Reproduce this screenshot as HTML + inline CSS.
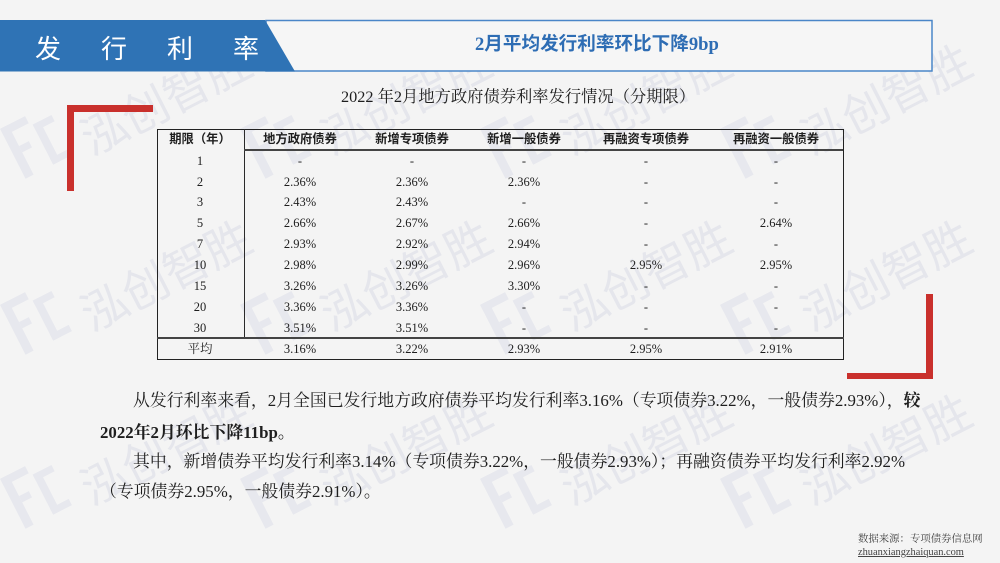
<!DOCTYPE html>
<html><head><meta charset="utf-8">
<style>
*{margin:0;padding:0;box-sizing:border-box}
html,body{width:1000px;height:563px;overflow:hidden;background:#f4f4f4}
body{position:relative;font-family:"Liberation Serif","Noto Serif CJK SC",serif;color:#1e1e1e}
.a{position:absolute;white-space:nowrap}
.c{position:absolute;width:140px;text-align:center;height:20px;line-height:20px;font-size:12.5px;white-space:nowrap}
.h{font-family:"Liberation Serif","Noto Sans CJK SC",sans-serif;font-weight:700;font-size:12.3px}
.red{position:absolute;background:#c9302c}
.ln{position:absolute;background:#2a2a2a}
.p{position:absolute;white-space:nowrap;font-size:16.85px;line-height:22px;height:22px}
</style></head><body>

<svg class="a" style="left:0;top:0" width="1000" height="563" viewBox="0 0 1000 563">
<defs>
<g id="wm">
  <g fill="#e7e8ee">
    <polygon points="-26,-28 -17,-28 -17,28 -26,28"/>
    <polygon points="-26,-28 2,-28 2,-20 -26,-20"/>
    <polygon points="-17,-4 -6,-4 -6,3 -17,3"/>
    <polygon points="5,-17 13,-17 13,28 5,28"/>
    <polygon points="5,-17 26,-17 26,-10 5,-10"/>
    <polygon points="5,21 26,21 26,28 5,28"/>
  </g>
  <text x="43" y="38" font-size="46" fill="#e5e6ec" font-family="Noto Sans CJK SC, sans-serif">泓创智胜</text>
</g>
</defs>
<use href="#wm" transform="translate(36,142) rotate(-27)"/>
<use href="#wm" transform="translate(276,142) rotate(-27)"/>
<use href="#wm" transform="translate(516,142) rotate(-27)"/>
<use href="#wm" transform="translate(756,142) rotate(-27)"/>
<use href="#wm" transform="translate(36,318) rotate(-27)"/>
<use href="#wm" transform="translate(276,318) rotate(-27)"/>
<use href="#wm" transform="translate(516,318) rotate(-27)"/>
<use href="#wm" transform="translate(756,318) rotate(-27)"/>
<use href="#wm" transform="translate(36,492) rotate(-27)"/>
<use href="#wm" transform="translate(276,492) rotate(-27)"/>
<use href="#wm" transform="translate(516,492) rotate(-27)"/>
<use href="#wm" transform="translate(756,492) rotate(-27)"/>

<!-- header -->
<rect x="266" y="20.5" width="666" height="50.5" fill="#f6f6f6" stroke="#4a86c8" stroke-width="1.5"/>
<polygon points="0,20 265,20 295,71.5 0,71.5" fill="#2f73b5"/>
</svg>

<div class="a" style="left:35px;top:30px;font-family:'Noto Sans CJK SC',sans-serif;font-size:26px;line-height:36px;color:#fff;letter-spacing:40px">发行利率</div>
<div class="a" style="left:475px;top:32px;font-family:'Liberation Serif','Noto Sans CJK SC',sans-serif;font-weight:700;font-size:18.6px;line-height:26px;color:#2e6db4">2月平均发行利率环比下降9bp</div>

<div class="a" style="left:341px;top:86px;font-size:16.3px;line-height:22px;color:#1e1e1e">2022 年2月地方政府债券利率发行情况（分期限）</div>

<!-- red brackets -->
<div class="red" style="left:67px;top:105px;width:7px;height:86px"></div>
<div class="red" style="left:67px;top:105px;width:86px;height:7px"></div>
<div class="red" style="left:926px;top:294px;width:7px;height:85px"></div>
<div class="red" style="left:847px;top:373px;width:86px;height:6px"></div>

<!-- table lines -->
<div class="a" style="left:157px;top:129px;width:687px;height:231px;border:1.5px solid #222"></div>
<div class="ln" style="left:243.5px;top:129px;width:1.5px;height:209px"></div>
<div class="ln" style="left:244px;top:149px;width:599px;height:2px;background:#444"></div>
<div class="ln" style="left:157px;top:337px;width:687px;height:2px;background:#444"></div>

<!-- header row -->
<div class="c h" style="left:130px;top:129px">期限（年）</div>
<div class="c h" style="left:230px;top:129px">地方政府债券</div>
<div class="c h" style="left:342px;top:129px">新增专项债券</div>
<div class="c h" style="left:454px;top:129px">新增一般债券</div>
<div class="c h" style="left:576px;top:129px">再融资专项债券</div>
<div class="c h" style="left:706px;top:129px">再融资一般债券</div>

<div class="c" style="left:130px;top:151px">1</div><div class="c" style="left:230px;top:151px">-</div><div class="c" style="left:342px;top:151px">-</div><div class="c" style="left:454px;top:151px">-</div><div class="c" style="left:576px;top:151px">-</div><div class="c" style="left:706px;top:151px">-</div>
<div class="c" style="left:130px;top:171.5px">2</div><div class="c" style="left:230px;top:171.5px">2.36%</div><div class="c" style="left:342px;top:171.5px">2.36%</div><div class="c" style="left:454px;top:171.5px">2.36%</div><div class="c" style="left:576px;top:171.5px">-</div><div class="c" style="left:706px;top:171.5px">-</div>
<div class="c" style="left:130px;top:192.3px">3</div><div class="c" style="left:230px;top:192.3px">2.43%</div><div class="c" style="left:342px;top:192.3px">2.43%</div><div class="c" style="left:454px;top:192.3px">-</div><div class="c" style="left:576px;top:192.3px">-</div><div class="c" style="left:706px;top:192.3px">-</div>
<div class="c" style="left:130px;top:213.2px">5</div><div class="c" style="left:230px;top:213.2px">2.66%</div><div class="c" style="left:342px;top:213.2px">2.67%</div><div class="c" style="left:454px;top:213.2px">2.66%</div><div class="c" style="left:576px;top:213.2px">-</div><div class="c" style="left:706px;top:213.2px">2.64%</div>
<div class="c" style="left:130px;top:234.1px">7</div><div class="c" style="left:230px;top:234.1px">2.93%</div><div class="c" style="left:342px;top:234.1px">2.92%</div><div class="c" style="left:454px;top:234.1px">2.94%</div><div class="c" style="left:576px;top:234.1px">-</div><div class="c" style="left:706px;top:234.1px">-</div>
<div class="c" style="left:130px;top:255px">10</div><div class="c" style="left:230px;top:255px">2.98%</div><div class="c" style="left:342px;top:255px">2.99%</div><div class="c" style="left:454px;top:255px">2.96%</div><div class="c" style="left:576px;top:255px">2.95%</div><div class="c" style="left:706px;top:255px">2.95%</div>
<div class="c" style="left:130px;top:275.9px">15</div><div class="c" style="left:230px;top:275.9px">3.26%</div><div class="c" style="left:342px;top:275.9px">3.26%</div><div class="c" style="left:454px;top:275.9px">3.30%</div><div class="c" style="left:576px;top:275.9px">-</div><div class="c" style="left:706px;top:275.9px">-</div>
<div class="c" style="left:130px;top:296.8px">20</div><div class="c" style="left:230px;top:296.8px">3.36%</div><div class="c" style="left:342px;top:296.8px">3.36%</div><div class="c" style="left:454px;top:296.8px">-</div><div class="c" style="left:576px;top:296.8px">-</div><div class="c" style="left:706px;top:296.8px">-</div>
<div class="c" style="left:130px;top:317.6px">30</div><div class="c" style="left:230px;top:317.6px">3.51%</div><div class="c" style="left:342px;top:317.6px">3.51%</div><div class="c" style="left:454px;top:317.6px">-</div><div class="c" style="left:576px;top:317.6px">-</div><div class="c" style="left:706px;top:317.6px">-</div>
<div class="c" style="left:130px;top:338.5px">平均</div><div class="c" style="left:230px;top:338.5px">3.16%</div><div class="c" style="left:342px;top:338.5px">3.22%</div><div class="c" style="left:454px;top:338.5px">2.93%</div><div class="c" style="left:576px;top:338.5px">2.95%</div><div class="c" style="left:706px;top:338.5px">2.91%</div>

<!-- paragraphs -->
<div class="p" style="left:133px;top:389.5px">从发行利率来看，2月全国已发行地方政府债券平均发行利率3.16%（专项债券3.22%，一般债券2.93%），<b>较</b></div>
<div class="p" style="left:100px;top:421.5px;font-weight:700">2022年2月环比下降11bp。</div>
<div class="p" style="left:133px;top:451px">其中，新增债券平均发行利率3.14%（专项债券3.22%，一般债券2.93%）；再融资债券平均发行利率2.92%</div>
<div class="p" style="left:100px;top:481px">（专项债券2.95%，一般债券2.91%）。</div>

<!-- footer -->
<div class="a" style="left:858px;top:533px;font-size:10.4px;line-height:14px;color:#444">数据来源：专项债券信息网</div>
<div class="a" style="left:858px;top:546px;font-size:10.4px;line-height:14px;color:#444;text-decoration:underline">zhuanxiangzhaiquan.com</div>
</body></html>
